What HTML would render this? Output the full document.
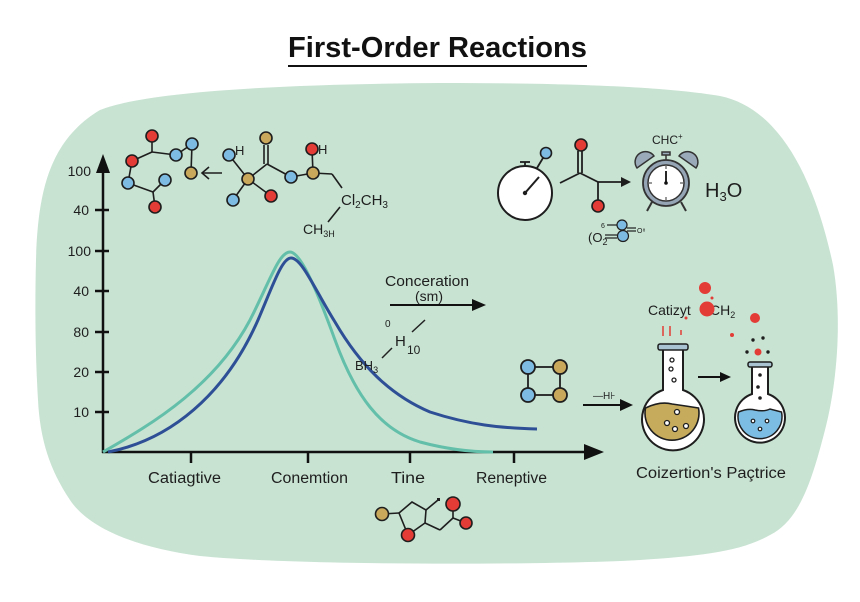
<!DOCTYPE html>
<html><head><meta charset="utf-8"><style>
html,body{margin:0;padding:0;background:#fff;width:860px;height:602px;overflow:hidden}
svg{display:block}
text{font-family:"Liberation Sans",Arial,sans-serif;fill:#1e1e1e}
</style></head><body>
<svg width="860" height="602" viewBox="0 0 860 602" xmlns="http://www.w3.org/2000/svg">
<rect width="860" height="602" fill="#fff"/>
<!-- title -->
<text x="288" y="57" font-size="29" font-weight="bold" textLength="299" lengthAdjust="spacingAndGlyphs" style="fill:#111">First-Order Reactions</text>
<line x1="288" y1="66" x2="587" y2="66" stroke="#111" stroke-width="2"/>
<!-- blob -->
<path d="M36,260 C38,190 50,140 100,110 C150,90 300,84 440,83 C560,83 660,86 720,96 C780,108 815,180 833,265 C842,315 838,380 825,430 C812,480 800,520 770,535 C740,552 700,556 640,560 C550,565 300,566 200,556 C140,548 90,530 70,500 C50,470 40,440 38,400 C35,350 35,300 36,260 Z" fill="#c8e3d2"/>

<!-- axes -->
<g stroke="#111" stroke-width="2.5" fill="none">
<line x1="103" y1="170" x2="103" y2="453"/>
<line x1="102" y1="452" x2="588" y2="452"/>
<line x1="95" y1="210" x2="109" y2="210"/>
<line x1="95" y1="251" x2="109" y2="251"/>
<line x1="95" y1="291" x2="109" y2="291"/>
<line x1="95" y1="332" x2="109" y2="332"/>
<line x1="95" y1="372" x2="109" y2="372"/>
<line x1="95" y1="412" x2="109" y2="412"/>
<line x1="191" y1="452" x2="191" y2="463"/>
<line x1="308" y1="452" x2="308" y2="463"/>
<line x1="410" y1="452" x2="410" y2="463"/>
<line x1="514" y1="452" x2="514" y2="463"/>
</g>
<polygon points="103,154 96,173 110,173" fill="#111"/>
<polygon points="604,452 584,444 584,460" fill="#111"/>
<g font-size="14" text-anchor="end">
<text x="91" y="176">100</text>
<text x="89" y="215">40</text>
<text x="91" y="256">100</text>
<text x="89" y="296">40</text>
<text x="89" y="337">80</text>
<text x="89" y="377">20</text>
<text x="89" y="417">10</text>
</g>
<g font-size="15.5">
<text x="148" y="483" textLength="73" lengthAdjust="spacingAndGlyphs">Catiagtive</text>
<text x="271" y="483" textLength="77" lengthAdjust="spacingAndGlyphs">Conemtion</text>
<text x="391" y="483" textLength="34" lengthAdjust="spacingAndGlyphs">Tine</text>
<text x="476" y="483" textLength="71" lengthAdjust="spacingAndGlyphs">Reneptive</text>
</g>

<!-- curves -->
<path d="M103,452 C150,425 220,385 255,310 C272,275 280,252 290,252 C300,252 315,285 335,340 C355,395 380,430 420,442 C450,450 475,452 493,452" fill="none" stroke="#63bfa9" stroke-width="3"/>
<path d="M108,452 C170,440 225,395 258,320 C273,285 282,258 291,258 C302,258 315,290 335,322 C360,365 390,395 430,412 C470,425 500,428 537,429" fill="none" stroke="#2e4f96" stroke-width="3"/>

<!-- top-left molecule 1 -->
<g stroke="#1e1e1e" stroke-width="1.6" fill="none">
<line x1="152" y1="136" x2="152" y2="152"/>
<line x1="152" y1="152" x2="132" y2="161"/>
<line x1="152" y1="152" x2="176" y2="155"/>
<line x1="176" y1="155" x2="192" y2="144"/>
<line x1="192" y1="144" x2="191" y2="173"/>
<line x1="132" y1="161" x2="128" y2="183"/>
<line x1="128" y1="183" x2="153" y2="192"/>
<line x1="153" y1="192" x2="165" y2="180"/>
<line x1="153" y1="192" x2="155" y2="207"/>
<line x1="222" y1="173" x2="202" y2="173"/>
<polyline points="209,167 202,173 209,179"/>
<!-- molecule 2 -->
<line x1="229" y1="155" x2="248" y2="179"/>
<line x1="248" y1="179" x2="233" y2="200"/>
<line x1="248" y1="179" x2="271" y2="196"/>
<line x1="248" y1="179" x2="267" y2="164"/>
<line x1="264" y1="145" x2="264" y2="164"/>
<line x1="268" y1="145" x2="268" y2="164"/>
<line x1="267" y1="164" x2="291" y2="177"/>
<line x1="291" y1="177" x2="313" y2="173"/>
<line x1="313" y1="173" x2="312" y2="149"/>
<line x1="313" y1="173" x2="332" y2="174"/>
<line x1="332" y1="174" x2="342" y2="188"/>
<line x1="340" y1="207" x2="328" y2="222"/>
</g>
<g stroke="#1e1e1e" stroke-width="1.6">
<circle cx="152" cy="136" r="6" fill="#e33b35"/>
<circle cx="132" cy="161" r="6" fill="#e33b35"/>
<circle cx="176" cy="155" r="6" fill="#7dbbe2"/>
<circle cx="192" cy="144" r="6" fill="#7dbbe2"/>
<circle cx="191" cy="173" r="6" fill="#c9a85c"/>
<circle cx="128" cy="183" r="6" fill="#7dbbe2"/>
<circle cx="165" cy="180" r="6" fill="#7dbbe2"/>
<circle cx="155" cy="207" r="6" fill="#e33b35"/>
<circle cx="229" cy="155" r="6" fill="#7dbbe2"/>
<circle cx="248" cy="179" r="6" fill="#c9a85c"/>
<circle cx="233" cy="200" r="6" fill="#7dbbe2"/>
<circle cx="271" cy="196" r="6" fill="#e33b35"/>
<circle cx="266" cy="138" r="6" fill="#c9a85c"/>
<circle cx="291" cy="177" r="6" fill="#7dbbe2"/>
<circle cx="313" cy="173" r="6" fill="#c9a85c"/>
<circle cx="312" cy="149" r="6" fill="#e33b35"/>
</g>
<text x="235" y="155" font-size="13">H</text>
<text x="318" y="154" font-size="13">H</text>
<text x="341" y="205" font-size="15">Cl<tspan font-size="10" dy="3">2</tspan><tspan dy="-3">CH</tspan><tspan font-size="10" dy="3">3</tspan></text>
<text x="303" y="234" font-size="14">CH<tspan font-size="9" dy="3">3H</tspan></text>

<!-- top right: stopwatch -->
<g stroke="#1e1e1e" stroke-width="1.8" fill="none">
<line x1="520" y1="162" x2="530" y2="162"/>
<line x1="525" y1="162" x2="525" y2="167"/>
<line x1="537" y1="168" x2="543" y2="158"/>
<line x1="560" y1="183" x2="580" y2="173"/>
<line x1="578" y1="151" x2="578" y2="173"/>
<line x1="582" y1="151" x2="582" y2="173"/>
<line x1="580" y1="173" x2="598" y2="182"/>
<line x1="598" y1="182" x2="598" y2="200"/>
<line x1="598" y1="182" x2="623" y2="182"/>
</g>
<circle cx="525" cy="193" r="27" fill="#fff" stroke="#1e1e1e" stroke-width="2"/>
<line x1="525" y1="193" x2="539" y2="177" stroke="#1e1e1e" stroke-width="2"/>
<circle cx="525" cy="193" r="2.2" fill="#1e1e1e"/>
<polygon points="631,182 621,177 621,187" fill="#1e1e1e"/>
<g stroke="#1e1e1e" stroke-width="1.6">
<circle cx="546" cy="153" r="5.5" fill="#7dbbe2"/>
<circle cx="581" cy="145" r="6" fill="#e33b35"/>
<circle cx="598" cy="206" r="6" fill="#e33b35"/>
</g>
<!-- alarm clock -->
<g stroke="#333" stroke-width="1.5">
<path d="M637,168 A9,9 0 0 1 654,156 Z" fill="#9aaab8"/>
<path d="M696,168 A9,9 0 0 0 679,156 Z" fill="#9aaab8"/>
<line x1="652" y1="202" x2="647" y2="211" stroke-width="2"/>
<line x1="681" y1="202" x2="686" y2="211" stroke-width="2"/>
<line x1="666" y1="155" x2="666" y2="160"/>
<rect x="662" y="152" width="8" height="3" fill="#9aaab8"/>
<circle cx="666" cy="183" r="23" fill="#95a5b5" stroke="#333" stroke-width="1.8"/>
<circle cx="666" cy="183" r="18" fill="#fff" stroke="#333" stroke-width="1.5"/>
<line x1="666" y1="183" x2="666" y2="171" stroke="#111" stroke-width="1.8"/>
<line x1="666" y1="166" x2="666" y2="169" stroke-width="1"/>
<line x1="666" y1="197" x2="666" y2="200" stroke-width="1"/>
<line x1="649" y1="183" x2="652" y2="183" stroke-width="1"/>
<line x1="680" y1="183" x2="683" y2="183" stroke-width="1"/>
</g>
<circle cx="666" cy="183" r="1.8" fill="#111"/>
<text x="652" y="144" font-size="12">CHC<tspan font-size="8" dy="-5">+</tspan></text>
<text x="705" y="197" font-size="20">H<tspan font-size="13" dy="4">3</tspan><tspan dy="-4">O</tspan></text>
<!-- small O2 molecule -->
<g stroke="#1e1e1e" stroke-width="1.2">
<line x1="607" y1="225" x2="617" y2="225"/>
<line x1="605" y1="235" x2="617" y2="235"/>
<line x1="605" y1="238" x2="617" y2="238"/>
<line x1="627" y1="228" x2="636" y2="228"/>
<line x1="627" y1="231" x2="636" y2="231"/>
<circle cx="622" cy="225" r="5" fill="#7dbbe2"/>
<circle cx="623" cy="236" r="5.5" fill="#7dbbe2"/>
</g>
<text x="601" y="228" font-size="7">6</text>
<text x="637" y="233" font-size="7">O⁸</text>
<text x="588" y="242" font-size="13">(O<tspan font-size="9" dy="3">2</tspan></text>

<!-- middle labels -->
<text x="385" y="286" font-size="15" textLength="84" lengthAdjust="spacingAndGlyphs">Conceration</text>
<text x="415" y="301" font-size="14">(sm)</text>
<line x1="390" y1="305" x2="475" y2="305" stroke="#111" stroke-width="2"/>
<polygon points="486,305 472,299 472,311" fill="#111"/>
<text x="385" y="327" font-size="10">0</text>
<text x="395" y="346" font-size="15">H</text>
<text x="407" y="354" font-size="12">10</text>
<line x1="412" y1="332" x2="425" y2="320" stroke="#222" stroke-width="1.5"/>
<line x1="382" y1="358" x2="392" y2="348" stroke="#222" stroke-width="1.5"/>
<text x="355" y="370" font-size="13">BH<tspan font-size="9" dy="3">3</tspan></text>

<!-- square molecule -->
<g stroke="#1e1e1e" stroke-width="1.8">
<rect x="528" y="367" width="32" height="28" fill="none"/>
<circle cx="528" cy="367" r="7" fill="#7dbbe2"/>
<circle cx="560" cy="367" r="7" fill="#c9a85c"/>
<circle cx="528" cy="395" r="7" fill="#7dbbe2"/>
<circle cx="560" cy="395" r="7" fill="#c9a85c"/>
</g>
<text x="593" y="399" font-size="10">—H⊦</text>
<line x1="583" y1="405" x2="622" y2="405" stroke="#111" stroke-width="2"/>
<polygon points="633,405 620,399 620,411" fill="#111"/>

<!-- flask 1 -->
<g stroke="#1e1e1e" stroke-width="2">
<path d="M663,349 L663,390 A31,31 0 1 0 683,390 L683,349 Z" fill="#fff"/>
<path d="M645.5,408 Q660,401 672,404 Q686,406 698.5,408 A27,27 0 1 1 645.5,408 Z" fill="#c7ab5c" stroke-width="1.6"/>
<rect x="658" y="344" width="30" height="6" rx="2" fill="#a9c3d3" stroke-width="1.5"/>
</g>
<g stroke="#1e1e1e" stroke-width="1.3" fill="#fff">
<circle cx="672" cy="360" r="2"/>
<circle cx="671" cy="369" r="2"/>
<circle cx="674" cy="380" r="2"/>
<circle cx="677" cy="412" r="2.5"/>
<circle cx="667" cy="423" r="2.5"/>
<circle cx="686" cy="426" r="2.5"/>
<circle cx="675" cy="429" r="2.5"/>
</g>
<g stroke="#e33b35" stroke-width="1.5">
<line x1="663" y1="326" x2="663" y2="336"/>
<line x1="670" y1="326" x2="670" y2="336"/>
<line x1="681" y1="330" x2="681" y2="335"/>
</g>
<text x="648" y="315" font-size="14">Catizyt</text>
<text x="710" y="315" font-size="14">CH<tspan font-size="9" dy="3">2</tspan></text>
<g fill="#e33b35">
<circle cx="705" cy="288" r="6"/>
<circle cx="707" cy="309" r="7.5"/>
<circle cx="755" cy="318" r="5"/>
<circle cx="732" cy="335" r="2"/>
<circle cx="758" cy="352" r="3.5"/>
<circle cx="712" cy="298" r="1.5"/>
<circle cx="686" cy="318" r="1.5"/>
</g>
<g fill="#1e1e1e">
<circle cx="753" cy="340" r="1.7"/>
<circle cx="763" cy="338" r="1.7"/>
<circle cx="747" cy="352" r="1.7"/>
<circle cx="768" cy="352" r="1.7"/>
</g>
<line x1="698" y1="377" x2="722" y2="377" stroke="#111" stroke-width="2"/>
<polygon points="731,377 720,372 720,382" fill="#111"/>
<!-- flask 2 -->
<g stroke="#1e1e1e" stroke-width="2">
<path d="M752,366 L752,394 A25,25 0 1 0 768,394 L768,366 Z" fill="#fff"/>
<path d="M738.5,412 Q748,408 755,410 Q764,412 770,409 L781.5,412 A22,22 0 1 1 738.5,412 Z" fill="#7cbde3" stroke-width="1.5"/>
<rect x="748" y="362" width="24" height="5" rx="2" fill="#a9c3d3" stroke-width="1.5"/>
</g>
<g fill="#1e1e1e">
<circle cx="760" cy="375" r="1.8"/>
<circle cx="758" cy="387" r="1.8"/>
<circle cx="760" cy="398" r="1.8"/>
</g>
<g stroke="#1e1e1e" stroke-width="1.2" fill="#fff">
<circle cx="753" cy="421" r="1.8"/>
<circle cx="767" cy="421" r="1.8"/>
<circle cx="760" cy="429" r="1.8"/>
</g>
<text x="636" y="478" font-size="15.5" textLength="150" lengthAdjust="spacingAndGlyphs">Coizertion's Paçtrice</text>

<!-- bottom molecule -->
<g stroke="#1e1e1e" stroke-width="1.6" fill="none">
<line x1="382" y1="514" x2="399" y2="513"/>
<polygon points="399,513 412,502 426,510 425,523 408,535"/>
<line x1="426" y1="510" x2="438" y2="500"/>
<line x1="425" y1="523" x2="440" y2="530"/>
<line x1="440" y1="530" x2="453" y2="518"/>
<line x1="453" y1="518" x2="453" y2="504"/>
<line x1="453" y1="518" x2="466" y2="523"/>
</g>
<rect x="437" y="498" width="3" height="3" fill="#1e1e1e"/>
<g stroke="#1e1e1e" stroke-width="1.6">
<circle cx="382" cy="514" r="6.5" fill="#c9a85c"/>
<circle cx="408" cy="535" r="6.5" fill="#e33b35"/>
<circle cx="453" cy="504" r="7" fill="#e33b35"/>
<circle cx="466" cy="523" r="6" fill="#e33b35"/>
</g>
</svg>
</body></html>
